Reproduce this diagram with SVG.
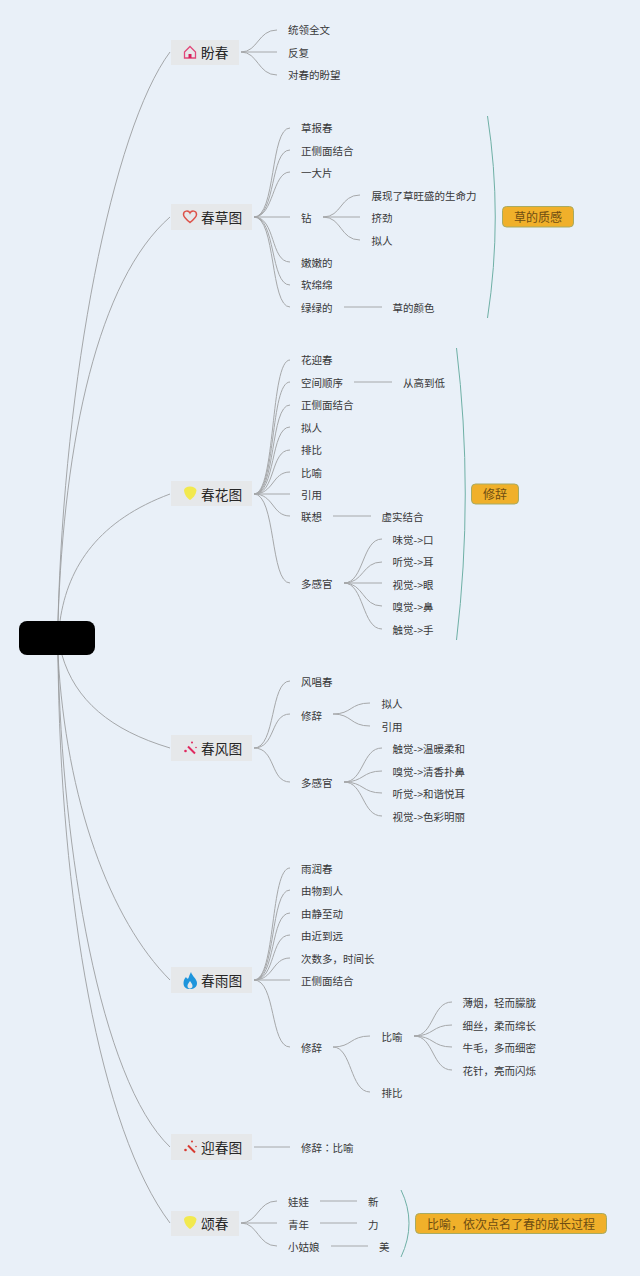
<svg xmlns="http://www.w3.org/2000/svg" width="640" height="1276" viewBox="0 0 640 1276">
<style>
text{font-family:"Noto Sans CJK SC","Liberation Sans",sans-serif;dominant-baseline:central}
.t{font-size:10.5px;fill:#383838}
.m{font-size:13.700px;fill:#262626}
.n{fill:#e6e8ea}
.tag{fill:#f0b02a;stroke:#a8ab62;stroke-width:1}
.tt{font-size:12px;fill:#6e4d12;text-anchor:middle}
#connectors path{fill:none;stroke:#a6a8aa;stroke-width:1}
#connectors .r{stroke:#9c9ea0;stroke-width:.9}
#connectors .b{stroke:#6fb0a6}
</style>
<rect width="640" height="1276" fill="#e9f0f8"/>
<g id="connectors">
<path class="r" d="M58 621C64 380 112 130 170 52"/>
<path class="r" d="M58 621C64 440 98 280 170 217"/>
<path class="r" d="M60 621C68 565 100 520 170 494"/>
<path class="r" d="M62 655C75 700 110 730 170 748"/>
<path class="r" d="M58 655C66 800 110 920 170 980"/>
<path class="r" d="M58 655C62 850 100 1080 170 1147"/>
<path class="r" d="M58 655C60 900 100 1130 170 1223"/>
<path d="M241 52C258 52 258 30 277 30"/><path d="M241 52H277"/><path d="M241 52C258 52 258 75 277 75"/>
<path d="M254 217C276 217 270 128 290 128"/><path d="M254 217C276 217 270 150 290 150"/><path d="M254 217C274 217 272 172 290 172"/><path d="M254 217H290"/><path d="M254 217C276 217 270 262 290 262"/><path d="M254 217C276 217 270 285 290 285"/><path d="M254 217C276 217 270 307 290 307"/>
<path d="M323 217C342 217 340 195 360 195"/><path d="M323 217H360"/><path d="M323 217C342 217 340 240 360 240"/>
<path d="M344 307H382"/>
<path d="M254 494C276 494 270 360 290 360"/><path d="M254 494C276 494 270 382 290 382"/><path d="M254 494C276 494 270 405 290 405"/><path d="M254 494C276 494 270 427 290 427"/><path d="M254 494C276 494 270 450 290 450"/><path d="M254 494C274 494 272 472 290 472"/><path d="M254 494H290"/><path d="M254 494C274 494 272 516 290 516"/><path d="M254 494C276 494 270 583 290 583"/>
<path d="M354 382H392"/><path d="M333 516H371"/>
<path d="M344 583C364 583 362 539 382 539"/><path d="M344 583C364 583 362 562 382 562"/><path d="M344 583H382"/><path d="M344 583C364 583 362 606 382 606"/><path d="M344 583C364 583 362 629 382 629"/>
<path d="M254 748C276 748 270 681 290 681"/><path d="M254 748C276 748 270 714 290 714"/><path d="M254 748C276 748 270 782 290 782"/>
<path d="M333 714C352 714 350 703 370 703"/><path d="M333 714C352 714 350 726 370 726"/>
<path d="M344 782C364 782 362 748 382 748"/><path d="M344 782C364 782 362 771 382 771"/><path d="M344 782C364 782 362 793 382 793"/><path d="M344 782C364 782 362 816 382 816"/>
<path d="M254 980C276 980 270 868 290 868"/><path d="M254 980C276 980 270 890 290 890"/><path d="M254 980C276 980 270 913 290 913"/><path d="M254 980C276 980 270 935 290 935"/><path d="M254 980C274 980 272 958 290 958"/><path d="M254 980H290"/><path d="M254 980C276 980 270 1047 290 1047"/>
<path d="M333 1047C352 1047 350 1036 370 1036"/><path d="M333 1047C352 1047 350 1092 370 1092"/>
<path d="M414 1036C434 1036 432 1002 452 1002"/><path d="M414 1036C434 1036 432 1025 452 1025"/><path d="M414 1036C434 1036 432 1047 452 1047"/><path d="M414 1036C434 1036 432 1070 452 1070"/>
<path d="M254 1147H290"/>
<path d="M241 1223C258 1223 258 1201 277 1201"/><path d="M241 1223H277"/><path d="M241 1223C258 1223 258 1246 277 1246"/>
<path d="M320 1201H357"/><path d="M320 1223H357"/><path d="M331 1246H368"/>
<path class="b" d="M487.500 116Q503 217 487.500 318"/>
<path class="b" d="M456.500 348Q474 494 456.500 640"/>
<path class="b" d="M401 1190Q417 1223 401 1257"/>
</g>
<g id="root"><rect x="19" y="621" width="76" height="34" rx="8" fill="#000"/></g>
<g id="n1"><rect class="n" x="171" y="40" width="68" height="25"/><path d="M184.500 52L190 46.500L195.500 52V58H184.500Z" fill="none" stroke="#e0487a" stroke-width="1.300"/><rect x="188.500" y="54" width="3" height="4" fill="#d81e5b"/><text class="m" x="201" y="51.500">盼春</text></g>
<g id="n2"><rect class="n" x="171" y="204" width="81" height="26"/><path d="M190 222.500C185 218.500 183.500 216.500 183.500 214.500C183.500 210.500 188.500 210 190 213C191.500 210 196.500 210.500 196.500 214.500C196.500 216.500 195 218.500 190 222.500Z" fill="none" stroke="#dd5148" stroke-width="1.500"/><text class="m" x="201" y="216.500">春草图</text></g>
<g id="n3"><rect class="n" x="171" y="481" width="81" height="25"/><path d="M184 490Q185 486.500 190 486.500Q195 486.500 196.500 490C196 495 193 498 190 500C187 498 184.500 495 184 490Z" fill="#f2e94e"/><text class="m" x="201" y="493.500">春花图</text></g>
<g id="n4"><rect class="n" x="171" y="735" width="81" height="26"/><path d="M188 746.500L195 753.500" stroke="#e0285f" stroke-width="2" fill="none"/><circle cx="192" cy="742.500" r="1" fill="#e0285f"/><circle cx="185.500" cy="751" r="1.300" fill="#e0285f"/><circle cx="196" cy="747.500" r="0.800" fill="#e0285f"/><text class="m" x="201" y="747.500">春风图</text></g>
<g id="n5"><rect class="n" x="171" y="967" width="81" height="26"/><path fill-rule="evenodd" d="M191 972C192 976 197 979 197 983C197 987 194 989 190 989C186 989 183.500 987 183.500 983C183.500 980 185 978 186 977C187 979 188 979 188.500 978C189 976 190 974 191 972ZM190 981C188.500 983 187.500 984.500 187.500 986C187.500 988 189 988.500 190 988.500C191.500 988.500 192.500 987.500 192.500 986C192.500 984.500 191.500 983 190 981Z" fill="#1e95dc"/><text class="m" x="201" y="979.500">春雨图</text></g>
<g id="n6"><rect class="n" x="171" y="1134" width="81" height="26"/><path d="M188 1145.500L195 1152.500" stroke="#d83a30" stroke-width="2" fill="none"/><circle cx="192" cy="1141.500" r="1" fill="#d83a30"/><circle cx="185.500" cy="1150" r="1.300" fill="#d83a30"/><circle cx="196" cy="1146.500" r="0.800" fill="#d83a30"/><text class="m" x="201" y="1146.500">迎春图</text></g>
<g id="n7"><rect class="n" x="171" y="1211" width="68" height="25"/><path d="M184 1219Q185 1216 190 1216Q195 1216 196.500 1219C196 1224 193 1227 190 1229C187 1227 184.500 1224 184 1219Z" fill="#f2e94e"/><text class="m" x="201" y="1222.500">颂春</text></g>
<g id="leaves" transform="translate(0 -1)">
<text class="t" x="288" y="30.500">统领全文</text><text class="t" x="288" y="53">反复</text><text class="t" x="288" y="75.500">对春的盼望</text>
<text class="t" x="301" y="128.500">草报春</text><text class="t" x="301" y="151">正侧面结合</text><text class="t" x="301" y="173.500">一大片</text><text class="t" x="301" y="218">钻</text><text class="t" x="301" y="263">嫩嫩的</text><text class="t" x="301" y="285.500">软绵绵</text><text class="t" x="301" y="308">绿绿的</text>
<text class="t" x="371.500" y="196">展现了草旺盛的生命力</text><text class="t" x="371.500" y="218">挤劲</text><text class="t" x="371.500" y="241">拟人</text><text class="t" x="392.500" y="308">草的颜色</text>
<text class="t" x="301" y="360.500">花迎春</text><text class="t" x="301" y="383">空间顺序</text><text class="t" x="301" y="405.500">正侧面结合</text><text class="t" x="301" y="428">拟人</text><text class="t" x="301" y="450.500">排比</text><text class="t" x="301" y="473">比喻</text><text class="t" x="301" y="495">引用</text><text class="t" x="301" y="517.500">联想</text><text class="t" x="301" y="584.500">多感官</text>
<text class="t" x="403" y="383">从高到低</text><text class="t" x="381.500" y="517.500">虚实结合</text>
<text class="t" x="392.500" y="540">味觉-&gt;口</text><text class="t" x="392.500" y="562.500">听觉-&gt;耳</text><text class="t" x="392.500" y="585">视觉-&gt;眼</text><text class="t" x="392.500" y="607.500">嗅觉-&gt;鼻</text><text class="t" x="392.500" y="630">触觉-&gt;手</text>
<text class="t" x="301" y="682">风唱春</text><text class="t" x="301" y="716">修辞</text><text class="t" x="301" y="783">多感官</text><text class="t" x="381.500" y="704.500">拟人</text><text class="t" x="381.500" y="727">引用</text>
<text class="t" x="392.500" y="749.500">触觉-&gt;温暖柔和</text><text class="t" x="392.500" y="772">嗅觉-&gt;清香扑鼻</text><text class="t" x="392.500" y="794.500">听觉-&gt;和谐悦耳</text><text class="t" x="392.500" y="817">视觉-&gt;色彩明丽</text>
<text class="t" x="301" y="869">雨润春</text><text class="t" x="301" y="891.500">由物到人</text><text class="t" x="301" y="914">由静至动</text><text class="t" x="301" y="936.500">由近到远</text><text class="t" x="301" y="959">次数多，时间长</text><text class="t" x="301" y="981.500">正侧面结合</text><text class="t" x="301" y="1048.500">修辞</text>
<text class="t" x="381.500" y="1037.500">比喻</text><text class="t" x="381.500" y="1093.500">排比</text>
<text class="t" x="462.500" y="1003.500">薄烟，轻而朦胧</text><text class="t" x="462.500" y="1026">细丝，柔而绵长</text><text class="t" x="462.500" y="1048.500">牛毛，多而细密</text><text class="t" x="462.500" y="1071">花针，亮而闪烁</text>
<text class="t" x="301" y="1148">修辞<tspan style="font-family:'Noto Sans CJK TC',sans-serif">：</tspan>比喻</text>
<text class="t" x="288" y="1202.500">娃娃</text><text class="t" x="288" y="1225">青年</text><text class="t" x="288" y="1247.500">小姑娘</text><text class="t" x="368" y="1202.500">新</text><text class="t" x="368" y="1225">力</text><text class="t" x="379" y="1247.500">美</text>
</g>
<g id="tag1"><rect class="tag" x="502.500" y="206.500" width="71" height="20.500" rx="4"/><text class="tt" x="538" y="216.500">草的质感</text></g>
<g id="tag2"><rect class="tag" x="471.500" y="484" width="47" height="20" rx="4"/><text class="tt" x="495" y="493.500">修辞</text></g>
<g id="tag3"><rect class="tag" x="415.500" y="1213.500" width="191" height="20" rx="4"/><text class="tt" x="511" y="1223.500">比喻，依次点名了春的成长过程</text></g>
</svg>
